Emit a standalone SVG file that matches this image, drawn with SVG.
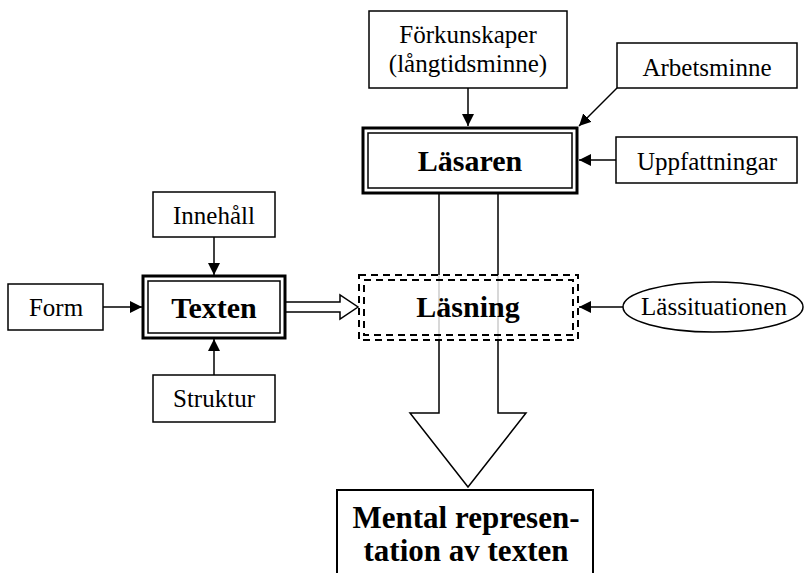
<svg xmlns="http://www.w3.org/2000/svg" width="805" height="573" viewBox="0 0 805 573">
<defs>
<marker id="ah" markerUnits="userSpaceOnUse" markerWidth="13" markerHeight="13" refX="12" refY="6" orient="auto">
<path d="M0,0 L12,6 L0,12 z" fill="#000"/>
</marker>
</defs>
<style>
.box{fill:#fff;stroke:#000;stroke-width:1.5}
.t{font-family:"Liberation Serif","Times New Roman",serif;font-size:25px;text-anchor:middle;fill:#000}
.b{font-family:"Liberation Serif","Times New Roman",serif;font-size:30px;font-weight:bold;text-anchor:middle;fill:#000}
.outer{fill:none;stroke:#000;stroke-width:3}
.inner{fill:none;stroke:#000;stroke-width:1.5}
.dash{fill:none;stroke:#000;stroke-width:2;stroke-dasharray:7 5}
.ln{fill:none;stroke:#000;stroke-width:1.5}
</style>
<rect width="805" height="573" fill="#fff"/>
<g id="connectors">
<line class="ln" x1="468" y1="88" x2="468" y2="126" marker-end="url(#ah)"/>
<line class="ln" x1="617" y1="88" x2="579" y2="126" marker-end="url(#ah)"/>
<line class="ln" x1="616" y1="160" x2="579" y2="160" marker-end="url(#ah)"/>
<line class="ln" x1="214" y1="237" x2="214" y2="275" marker-end="url(#ah)"/>
<line class="ln" x1="103" y1="307" x2="142" y2="307" marker-end="url(#ah)"/>
<line class="ln" x1="214" y1="375" x2="214" y2="339" marker-end="url(#ah)"/>
<line class="ln" x1="623" y1="307" x2="579" y2="307" marker-end="url(#ah)"/>
<polygon class="ln" fill="#fff" points="285,302 340,302 340,295 358,307 340,319 340,312 285,312" style="fill:#fff"/>
<polyline class="ln" points="439,193 439,413 410,413 468,487 526,413 498,413 498,193" style="fill:#fff"/>
</g>
<g id="forkunskaper">
<rect class="box" x="369" y="11" width="198" height="77"/>
<text class="t" x="468" y="43">Förkunskaper</text>
<text class="t" x="468" y="72">(långtidsminne)</text>
</g>
<g id="arbetsminne">
<rect class="box" x="617" y="43" width="180" height="45"/>
<text class="t" x="707" y="76">Arbetsminne</text>
</g>
<g id="uppfattningar">
<rect class="box" x="616" y="137" width="181" height="46"/>
<text class="t" x="707" y="170">Uppfattningar</text>
</g>
<g id="lasaren">
<rect x="363" y="128" width="214" height="65" fill="#fff" class="outer"/>
<rect class="inner" x="368" y="133" width="204" height="55"/>
<text class="b" x="470" y="171">Läsaren</text>
</g>
<g id="innehall">
<rect class="box" x="153" y="192" width="122" height="45"/>
<text class="t" x="214" y="224">Innehåll</text>
</g>
<g id="form">
<rect class="box" x="8" y="284" width="95" height="46"/>
<text class="t" x="56" y="316">Form</text>
</g>
<g id="texten">
<rect x="143" y="276" width="142" height="62" fill="#fff" class="outer"/>
<rect class="inner" x="148" y="281" width="132" height="52"/>
<text class="b" x="214" y="318">Texten</text>
</g>
<g id="struktur">
<rect class="box" x="153" y="375" width="122" height="47"/>
<text class="t" x="214" y="407">Struktur</text>
</g>
<g id="lasning">
<rect x="359" y="275" width="219" height="65" fill="#fff" fill-opacity="0.8"/>
<rect class="dash" x="359" y="275" width="219" height="65"/>
<rect class="dash" x="364" y="280" width="209" height="55"/>
<text class="b" x="468" y="317">Läsning</text>
</g>
<g id="lassituationen">
<ellipse class="box" cx="713" cy="307" rx="90" ry="25"/>
<text class="t" x="714" y="315">Lässituationen</text>
</g>
<g id="mental">
<rect class="box" x="337" y="490" width="256" height="110" style="stroke-width:2"/>
<text class="b" x="466" y="528" style="font-size:31px">Mental represen-</text>
<text class="b" x="466" y="561" style="font-size:31px">tation av texten</text>
</g>
</svg>
